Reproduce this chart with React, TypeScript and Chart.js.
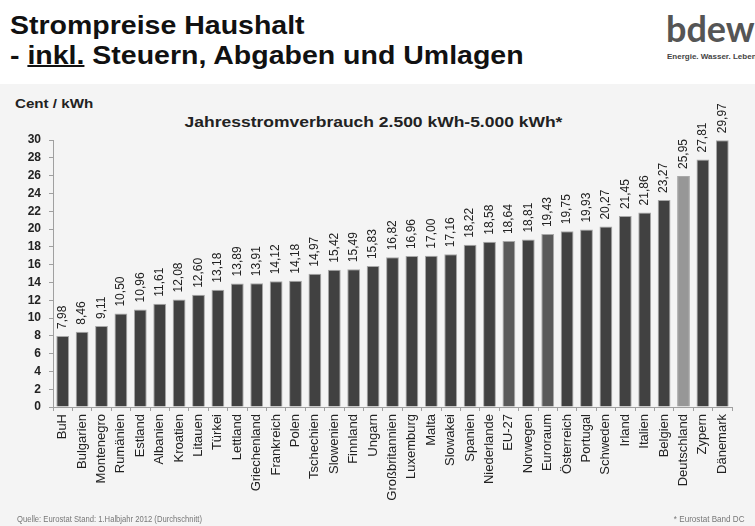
import React, { useEffect, useRef } from "react";
import { Chart, registerables } from "chart.js";

Chart.register(...registerables);

const categories = [
  "BuH", "Bulgarien", "Montenegro", "Rumänien", "Estland", "Albanien", "Kroatien",
  "Litauen", "Türkei", "Lettland", "Griechenland", "Frankreich", "Polen", "Tschechien",
  "Slowenien", "Finnland", "Ungarn", "Großbritannien", "Luxemburg", "Malta", "Slowakei",
  "Spanien", "Niederlande", "EU-27", "Norwegen", "Euroraum", "Österreich", "Portugal",
  "Schweden", "Irland", "Italien", "Belgien", "Deutschland", "Zypern", "Dänemark",
];

const prices = [
  7.98, 8.46, 9.11, 10.5, 10.96, 11.61, 12.08, 12.6, 13.18, 13.89, 13.91, 14.12, 14.18,
  14.97, 15.42, 15.49, 15.83, 16.82, 16.96, 17.0, 17.16, 18.22, 18.58, 18.64, 18.81,
  19.43, 19.75, 19.93, 20.27, 21.45, 21.86, 23.27, 25.95, 27.81, 29.97,
];

const averageCategories = ["EU-27", "Euroraum"];
const highlightCategory = "Deutschland";

const yMin = 0;
const yMax = 30;
const yStep = 2;

const FONT = "'Liberation Sans', Arial, sans-serif";
const STRETCH = 1.165;
const TITLE_STRETCH = 1.14;

const valueLabelPlugin = {
  id: "valueLabels",
  afterDatasetsDraw(chart: any) {
    const ctx = chart.ctx;
    const meta = chart.getDatasetMeta(0);
    const data = chart.data.datasets[0].data as number[];
    ctx.save();
    ctx.fillStyle = "#222";
    ctx.font = `12px ${FONT}`;
    ctx.textAlign = "left";
    ctx.textBaseline = "middle";
    meta.data.forEach((el: any, i: number) => {
      const txt = data[i].toFixed(2).replace(".", ",");
      ctx.save();
      ctx.translate(el.x, el.y - 7);
      ctx.rotate(-Math.PI / 2);
      ctx.fillText(txt, 0, 0);
      ctx.restore();
    });
    ctx.restore();
  },
};

const stretched = (k: number, extra: React.CSSProperties = {}): React.CSSProperties => ({
  position: "absolute",
  whiteSpace: "nowrap",
  transformOrigin: "left top",
  transform: `scaleX(${k})`,
  ...extra,
});

export default function App() {
  const canvasRef = useRef<HTMLCanvasElement | null>(null);

  useEffect(() => {
    document.body.style.margin = "0";
    const colors = categories.map((c) =>
      c === highlightCategory ? "#979797" : averageCategories.includes(c) ? "#5a5a5a" : "#414141"
    );
    const chart = new Chart(canvasRef.current as HTMLCanvasElement, {
      type: "bar",
      data: {
        labels: categories,
        datasets: [
          {
            data: prices,
            backgroundColor: colors,
            borderColor: "#a8a8a8",
            borderWidth: 1,
            barPercentage: 0.66,
            categoryPercentage: 1,
          },
        ],
      },
      options: {
        animation: false,
        responsive: false,
        maintainAspectRatio: false,
        layout: { padding: { left: 0, right: 23, top: 140, bottom: 0 } },
        plugins: {
          legend: { display: false },
          tooltip: { enabled: false },
          title: { display: false },
        },
        scales: {
          x: {
            afterFit: (s: any) => {
              s.height = 119;
            },
            grid: {
              display: true,
              drawOnChartArea: false,
              drawTicks: true,
              tickLength: 4,
              color: "#a0a0a0",
              offset: true,
            },
            border: { display: true, color: "#a0a0a0" },
            ticks: {
              autoSkip: false,
              maxRotation: 90,
              minRotation: 90,
              padding: 3,
              color: "#222",
              font: { family: FONT, size: 13 },
            },
          },
          y: {
            min: yMin,
            max: yMax,
            afterFit: (s: any) => {
              s.width = 53;
            },
            grid: {
              display: true,
              drawOnChartArea: false,
              drawTicks: true,
              tickLength: 4,
              color: "#a0a0a0",
            },
            border: { display: true, color: "#a0a0a0" },
            ticks: {
              stepSize: yStep,
              padding: 8,
              color: "#222",
              font: { family: FONT, size: 12, weight: "bold" },
            },
          },
        },
      },
      plugins: [valueLabelPlugin],
    });
    return () => chart.destroy();
  }, []);

  return (
    <div
      style={{
        position: "relative",
        width: 755,
        height: 526,
        background: "#f4f4f4",
        overflow: "hidden",
        fontFamily: FONT,
      }}
    >
      <div style={{ position: "absolute", left: 0, top: 0, width: 755, height: 84, background: "#ffffff" }} />
      <div style={stretched(TITLE_STRETCH, { left: 10, top: 10, fontSize: 25, fontWeight: "bold", color: "#111", lineHeight: "30px" })}>
        Strompreise Haushalt
      </div>
      <div style={stretched(TITLE_STRETCH, { left: 10, top: 40, fontSize: 25, fontWeight: "bold", color: "#111", lineHeight: "30px" })}>
        - <span style={{ textDecoration: "underline", textDecorationThickness: 2 }}>inkl.</span> Steuern, Abgaben und Umlagen
      </div>
      <div style={{ position: "absolute", left: 666, top: 9, fontFamily: "Lato, 'Liberation Sans', sans-serif", fontSize: 36, fontWeight: "bold", color: "#555", lineHeight: "38px", letterSpacing: 0 }}>
        bdew
      </div>
      <div style={{ position: "absolute", left: 667, top: 52, fontSize: 8, color: "#444", whiteSpace: "nowrap", fontWeight: "bold" }}>
        Energie. Wasser. Leben.
      </div>
      <div style={stretched(STRETCH, { left: 15, top: 96, fontSize: 13, fontWeight: "bold", color: "#222" })}>
        Cent / kWh
      </div>
      <div
        style={{
          position: "absolute",
          left: 0,
          width: 755,
          top: 113,
          textAlign: "center",
          fontSize: 15,
          fontWeight: "bold",
          color: "#222",
          transform: `translateX(-4px) scaleX(${STRETCH})`,
          transformOrigin: "center top",
        }}
      >
        Jahresstromverbrauch 2.500 kWh-5.000 kWh*
      </div>
      <canvas ref={canvasRef} width={755} height={526} style={{ position: "absolute", left: 0, top: 0 }} />
      <div style={{ position: "absolute", left: 17, top: 514, fontSize: 9, color: "#777", whiteSpace: "nowrap", transform: "scaleX(0.85)", transformOrigin: "left top" }}>
        Quelle: Eurostat Stand: 1.Halbjahr 2012 (Durchschnitt)
      </div>
      <div style={{ position: "absolute", right: 10, top: 514, fontSize: 9, color: "#777", whiteSpace: "nowrap", transform: "scaleX(0.9)", transformOrigin: "right top" }}>
        * Eurostat Band DC
      </div>
    </div>
  );
}
